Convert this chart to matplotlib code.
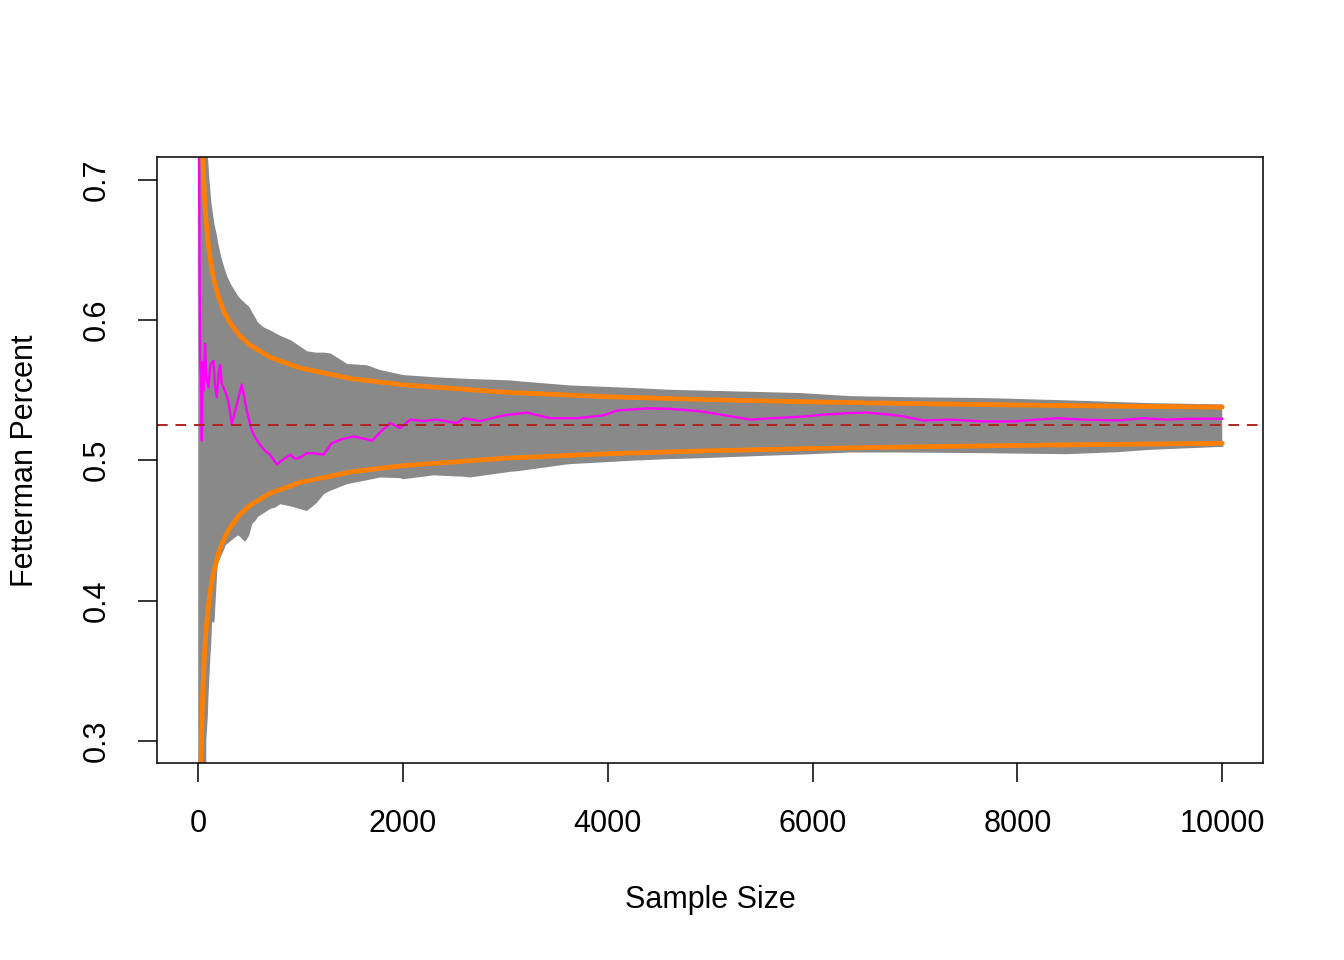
import matplotlib
matplotlib.use("Agg")
import matplotlib.pyplot as plt
import numpy as np

plt.rcParams['font.family'] = ['Liberation Sans', 'DejaVu Sans']

# value of p the simulations were drawn around
p_true = 0.525

# outer edges of the cloud of simulated running proportions (gray band)
band_n = [1, 60, 70, 85, 90, 100, 110, 117, 130, 150, 180, 182, 215, 247, 260,
          280, 312, 380, 400, 459, 491, 520, 560, 573, 638, 700, 750, 801, 898,
          900, 1061, 1150, 1224, 1289, 1452, 1647, 1777, 1973, 2005, 2300, 2600,
          2656, 2900, 3047, 3145, 3600, 3633, 4251, 4609, 4902, 5553, 5879, 6367,
          6855, 7669, 7897, 8483, 8971, 9297, 10000]
band_hi = [1.0, 1.0, 1.0, 0.716, 0.712, 0.700, 0.692, 0.685, 0.678, 0.668, 0.658,
           0.656, 0.645, 0.637, 0.634, 0.630, 0.625, 0.617, 0.615, 0.611, 0.609,
           0.605, 0.600, 0.598, 0.594, 0.592, 0.590, 0.588, 0.585, 0.585, 0.577,
           0.576, 0.5760, 0.5755, 0.568, 0.567, 0.5636, 0.5605, 0.5600, 0.5585,
           0.5574, 0.5572, 0.5566, 0.5562, 0.5555, 0.5528, 0.5526, 0.5508, 0.5495,
           0.549, 0.5478, 0.5472, 0.5450, 0.5443, 0.5436, 0.5432, 0.5420, 0.5408,
           0.5400, 0.5391]
band_lo = [0.0, 0.0, 0.300, 0.318, 0.330, 0.345, 0.360, 0.368, 0.390, 0.385, 0.425,
           0.426, 0.432, 0.437, 0.440, 0.441, 0.443, 0.447, 0.447, 0.443, 0.447,
           0.455, 0.458, 0.460, 0.463, 0.466, 0.467, 0.4695, 0.468, 0.468, 0.4647,
           0.470, 0.4766, 0.479, 0.4837, 0.4865, 0.4885, 0.4880, 0.4873, 0.490,
           0.4890, 0.4885, 0.491, 0.4925, 0.4932, 0.4978, 0.498, 0.5005, 0.5016,
           0.5022, 0.504, 0.5048, 0.5063, 0.5063, 0.5058, 0.5056, 0.5051, 0.5065,
           0.5082, 0.5103]

# one highlighted simulation path (magenta)
path_n = [1, 5, 10, 15, 20, 28, 36, 45, 55, 68, 80, 101, 120, 150, 165, 182, 200,
          215, 230, 247, 270, 296, 329, 350, 378, 427, 450, 476, 524, 560, 605, 650,
          703, 768, 820, 898, 950, 996, 1060, 1126, 1224, 1302, 1400, 1518, 1647,
          1700, 1777, 1875, 1973, 2070, 2200, 2331, 2526, 2591, 2754, 2982, 3210,
          3438, 3698, 3958, 4089, 4382, 4609, 4902, 5150, 5390, 5600, 5879, 6100,
          6367, 6533, 6693, 6855, 7083, 7344, 7669, 7962, 8190, 8385, 8645, 8970,
          9231, 9459, 9687, 10000]
path_val = [1.0, 0.80, 0.70, 0.62, 0.573, 0.56, 0.514, 0.57, 0.55, 0.583, 0.56,
            0.552, 0.568, 0.571, 0.553, 0.545, 0.562, 0.568, 0.555, 0.552, 0.548,
            0.542, 0.5255, 0.532, 0.540, 0.554, 0.545, 0.535, 0.521, 0.516, 0.511,
            0.507, 0.504, 0.497, 0.500, 0.504, 0.501, 0.502, 0.505, 0.505, 0.504,
            0.512, 0.515, 0.517, 0.515, 0.514, 0.520, 0.5265, 0.523, 0.529, 0.528,
            0.529, 0.5265, 0.530, 0.528, 0.532, 0.534, 0.530, 0.530, 0.532, 0.5355,
            0.537, 0.5367, 0.535, 0.532, 0.529, 0.530, 0.531, 0.5325, 0.5337, 0.534,
            0.533, 0.5317, 0.5284, 0.529, 0.5277, 0.5277, 0.529, 0.530, 0.529,
            0.5284, 0.530, 0.529, 0.5296, 0.5296]

# 99% bounds (orange)
bound_n = [20, 25, 30, 35, 40, 45, 50, 60, 70, 80, 100, 120, 150, 200, 250, 300,
           400, 500, 700, 1000, 1500, 2000, 3000, 4000, 5000, 6000, 7000, 8000,
           9000, 10000]
bound_hi = [0.8126, 0.7823, 0.7599, 0.7424, 0.7284, 0.7168, 0.7069, 0.6911, 0.6788,
            0.6688, 0.6536, 0.6424, 0.6300, 0.6160, 0.6064, 0.5993, 0.5893, 0.5825,
            0.5736, 0.5657, 0.5582, 0.5538, 0.5485, 0.5453, 0.5432, 0.5416, 0.5404,
            0.5394, 0.5386, 0.5379]
bound_lo = [0.2374, 0.2677, 0.2901, 0.3076, 0.3216, 0.3332, 0.3431, 0.3589, 0.3712,
            0.3812, 0.3964, 0.4076, 0.4200, 0.4340, 0.4436, 0.4507, 0.4607, 0.4675,
            0.4764, 0.4843, 0.4918, 0.4962, 0.5015, 0.5047, 0.5068, 0.5084, 0.5096,
            0.5106, 0.5114, 0.5121]

gray = '#898989'

fig = plt.figure(figsize=(13.44, 9.6), dpi=100)
ax = fig.add_axes([0.1170, 0.2049, 0.8229, 0.63125])

ax.fill_between(band_n, band_lo, band_hi, color=gray, lw=0)
ax.plot(band_n, band_hi, color=gray, lw=1.5)
ax.plot(band_n, band_lo, color=gray, lw=1.5)

ax.plot(path_n, path_val, color='#FF00FF', lw=1.7)
ax.plot(bound_n, bound_hi, color='#FF7F00', lw=3.4, solid_capstyle='round')
ax.plot(bound_n, bound_lo, color='#FF7F00', lw=3.4, solid_capstyle='round')
ax.axhline(p_true, color='#B22222', lw=1.4, dashes=(5.5, 4))

ax.set_xlim(-399, 10400)
ax.set_ylim(0.284, 0.716)
ax.set_xticks([0, 2000, 4000, 6000, 8000, 10000])
ax.set_yticks([0.3, 0.4, 0.5, 0.6, 0.7])
ax.set_yticklabels(['0.3', '0.4', '0.5', '0.6', '0.7'])

for s in ax.spines.values():
    s.set_linewidth(1.1)
ax.tick_params(length=14, width=1.1, labelsize=22, pad=19)
ax.tick_params(axis='y', labelrotation=90)
for lab in ax.get_yticklabels():
    lab.set_va('center')

ax.set_xlabel('Sample Size', fontsize=22)
ax.set_ylabel('Fetterman Percent', fontsize=22)
ax.xaxis.set_label_coords(0.5, -0.2256)
ax.xaxis.label.set_va('center')
ax.yaxis.set_label_coords(-0.1196, 0.5)
ax.yaxis.label.set_va('center')

fig.savefig('out.png', dpi=100)
